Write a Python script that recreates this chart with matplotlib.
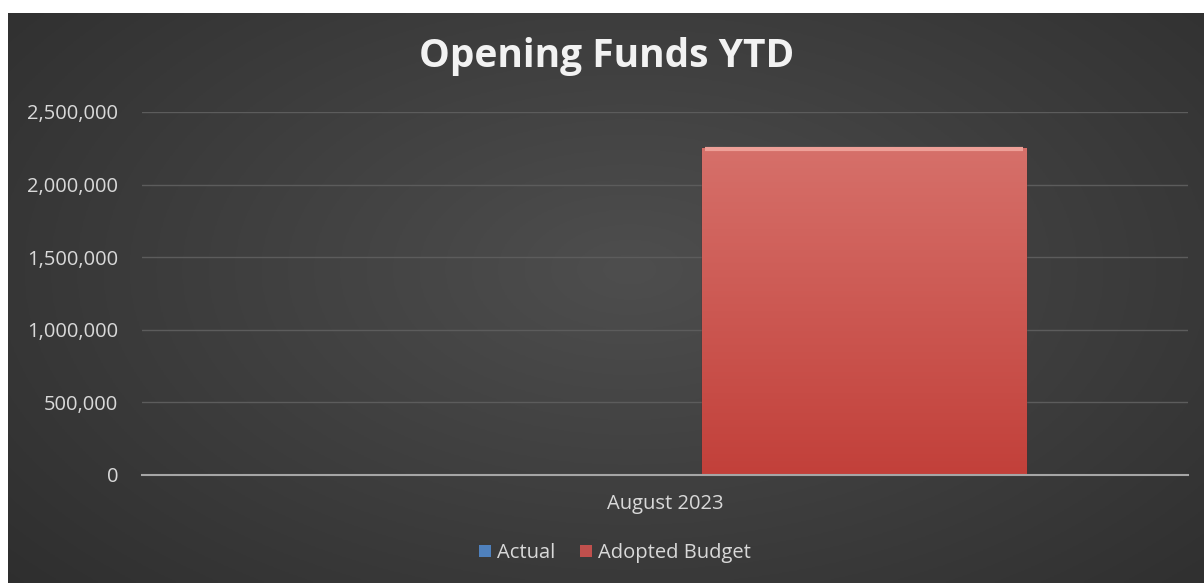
import matplotlib
matplotlib.use("Agg")
import matplotlib.pyplot as plt
import numpy as np
from matplotlib.patches import Patch
from matplotlib.ticker import FuncFormatter

categories = ["August 2023"]
series_names = ["Actual", "Adopted Budget"]
actual = [0]
adopted_budget = [2255000]
y_ticks = [0, 500000, 1000000, 1500000, 2000000, 2500000]

W, H = 1204, 583
fig = plt.figure(figsize=(W / 100, H / 100), dpi=100)
fig.patch.set_facecolor("white")

# background with radial gradient
bg = fig.add_axes([8 / W, 0, 1 - 8 / W, (H - 13) / H])
bg.set_axis_off()
gx, gy = np.meshgrid(np.linspace(0, 1, 400), np.linspace(0, 1, 200))
d = np.sqrt(((gx - 0.52) / 0.75) ** 2 + ((gy - 0.45) / 0.9) ** 2)
d = np.clip(d, 0, 1)
c_in = np.array([0x4e, 0x4e, 0x4e]) / 255
c_out = np.array([0x2c, 0x2c, 0x2c]) / 255
img = c_in[None, None, :] * (1 - d[..., None]) + c_out[None, None, :] * d[..., None]
bg.imshow(img, aspect="auto", extent=[0, 1, 0, 1], origin="upper")
bg.set_xlim(0, 1)
bg.set_ylim(0, 1)

ax = fig.add_axes([142 / W, 1 - 475 / H, (1188 - 142) / W, (475 - 112) / H])
ax.patch.set_alpha(0)

x = np.arange(len(categories))
width = 0.31
off = 0.19
bars_a = ax.bar(x - off, actual, width, color="#4f81bd", zorder=3)
bars_b = ax.bar(x + off, adopted_budget, width, color="#c94a44", zorder=3,
                edgecolor="#5a2a28", linewidth=1.0)

ax.set_xlim(-0.5, 0.5)
ax.set_ylim(0, 2500000)
ax.set_yticks(y_ticks)
ax.yaxis.set_major_formatter(FuncFormatter(lambda v, p: f"{int(v):,}"))
ax.set_xticks(x)
ax.set_xticklabels(categories)

# gradient fill on the budget bar
for b in bars_b:
    x0, y0 = b.get_x(), b.get_y()
    w, h = b.get_width(), b.get_height()
    grad = np.linspace(0, 1, 256)[:, None]
    top = np.array([0xd6, 0x70, 0x6a]) / 255
    bot = np.array([0xc2, 0x40, 0x3a]) / 255
    gimg = top[None, None, :] * (1 - grad[..., None]) + bot[None, None, :] * grad[..., None]
    gimg = np.repeat(gimg, 4, axis=1)
    im = ax.imshow(gimg, extent=[x0, x0 + w, y0, y0 + h], aspect="auto",
                   origin="upper", zorder=4)
    im.set_clip_path(b)
    ax.plot([x0 + 0.003, x0 + w - 0.003], [y0 + h - 12000, y0 + h - 12000],
            color="#eea098", lw=3, zorder=5, solid_capstyle="butt")
    ax.set_xlim(-0.5, 0.5)

ax.grid(axis="y", color="#5c5c5c", lw=1, zorder=0)
for s in ["top", "right", "left"]:
    ax.spines[s].set_visible(False)
ax.spines["bottom"].set_color("#a6a6a6")
ax.spines["bottom"].set_linewidth(1.5)
ax.spines["bottom"].set_zorder(6)
ax.tick_params(axis="both", length=0, colors="#d9d9d9", labelsize=14.5)
ax.tick_params(axis="y", pad=17)
ax.tick_params(axis="x", pad=14)
for t in ax.get_yticklabels() + ax.get_xticklabels():
    t.set_fontfamily("Open Sans")

fig.text(607 / W, 1 - 57 / H, "Opening Funds YTD", ha="center", va="center",
         color="#f2f2f2", fontsize=28, fontweight="bold", family="Open Sans")

handles = [Patch(facecolor="#4f81bd", label=series_names[0]),
           Patch(facecolor="#c0504d", label=series_names[1])]
leg = fig.legend(handles=handles, loc="center", bbox_to_anchor=(615 / W, 1 - 553 / H),
                 ncol=2, frameon=False, handlelength=0.6,
                 handleheight=0.6, handletextpad=0.3, columnspacing=1.2,
                 prop={"family": "Open Sans", "size": 14.5})
for t in leg.get_texts():
    t.set_color("#d9d9d9")

fig.savefig("out.png", dpi=100, facecolor=fig.get_facecolor())
